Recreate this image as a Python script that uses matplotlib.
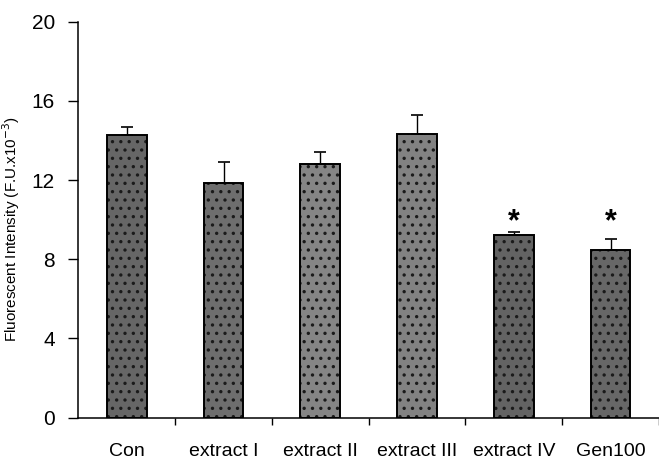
import matplotlib
matplotlib.use("Agg")
import matplotlib.pyplot as plt
import numpy as np

plt.rcParams["font.family"] = ["Liberation Sans", "DejaVu Sans"]
plt.rcParams["hatch.linewidth"] = 1.2

# data
groups = ["Con", "extract I", "extract II", "extract III", "extract IV", "Gen100"]
means = [14.25, 11.85, 12.8, 14.3, 9.2, 8.45]
errs = [0.45, 1.05, 0.6, 1.0, 0.2, 0.55]
signif = [False, False, False, False, True, True]
fills = ["#666666", "#6e6e6e", "#858585", "#828282", "#636363", "#676767"]

fig = plt.figure(figsize=(6.59, 4.59), dpi=100)
ax = fig.add_axes([0.119, 0.090, 0.881, 0.863])

x = np.arange(len(groups))
# textured fill: hatch drawn in a dark grey, then a black outline on top
for xi, m, c in zip(x, means, fills):
    ax.bar(xi, m, width=0.41, color=c, edgecolor="#1a1a1a", hatch="..",
           linewidth=0, zorder=2)
ax.bar(x, means, width=0.41, facecolor="none", edgecolor="black",
       linewidth=1.4, zorder=3)
ax.errorbar(x, means, yerr=[np.zeros(len(errs)), errs], fmt="none",
            ecolor="black", elinewidth=1.0, capsize=4.5, capthick=1.2, zorder=4)

for xi, s in zip(x, signif):
    if s:
        ax.text(xi, 9.1, "*", ha="center", va="bottom",
                fontsize=22, fontweight="bold")

ax.set_xlim(-0.5, 5.5)
ax.set_ylim(0, 20)
ax.set_yticks([0, 4, 8, 12, 16, 20])
ax.set_xticks(x + 0.5, minor=False)
ax.set_xticklabels([])
ax.set_xticks(x, minor=True)
ax.set_xticklabels(groups, minor=True, fontsize=14)
ax.tick_params(axis="x", which="minor", length=0, pad=18)
ax.tick_params(axis="x", which="major", direction="out", length=5, width=1)
ax.tick_params(axis="y", direction="out", length=7, width=1, labelsize=15, pad=10)

for side in ["top", "right"]:
    ax.spines[side].set_visible(False)
ax.spines["left"].set_linewidth(1.1)
ax.spines["bottom"].set_linewidth(1.1)

ax.set_ylabel("Fluorescent Intensity (F.U.x10$^{-3}$)", fontsize=11)
ax.yaxis.set_label_coords(-0.098, 0.477)

plt.savefig("out.png", dpi=100)
plt.close()
